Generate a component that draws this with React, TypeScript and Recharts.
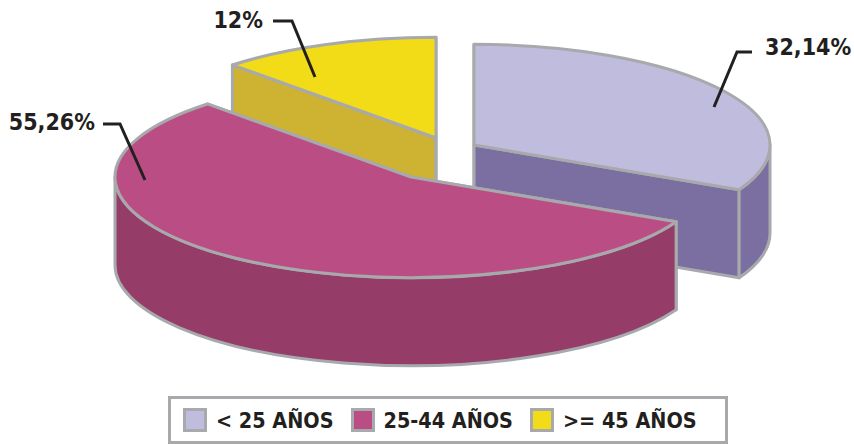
import { PieChart, Pie, Legend } from "recharts";

// Data
const CATEGORIES = ["< 25 AÑOS", "25-44 AÑOS", ">= 45 AÑOS"];
const VALUES = [32.14, 55.26, 12];

// Styles (one entry per category)
const TOP_COLORS = ["#C0BCDD", "#BA4E84", "#F2DB17"];
const WALL_COLORS = ["#7B6EA0", "#963C68", "#CDB331"];
const OFFSETS = [
  [34, -5],
  [-29, 27],
  [-4, -12],
];
const LEADERS = [
  { tip: [714, 107], knee: [737, 52], end: [752, 52], text: [765, 55], anchor: "start" },
  { tip: [145, 180], knee: [120, 124], end: [103, 124], text: [95, 130], anchor: "end" },
  { tip: [315, 77], knee: [292, 21], end: [273, 21], text: [263, 28], anchor: "end" },
];

const STROKE = "#A7A9AC";
const TEXT = "#231F20";
const FONT = "'DejaVu Sans Condensed', 'DejaVu Sans', sans-serif";
const Y_RATIO = 0.34;
const DEPTH = 88;

// Painted back to front, so the yellow slice goes first and the pie is rotated to suit
const DRAW_ORDER = [2, 0, 1];
const total = VALUES.reduce((s, v) => s + v, 0);
const START_ANGLE = 90 + (VALUES[2] / total) * 360;

const tableData = DRAW_ORDER.map((i) => ({
  name: CATEGORIES[i],
  value: VALUES[i],
  fill: TOP_COLORS[i],
  idx: i,
}));

const Slice3D = (props: any) => {
  const { cx, cy, outerRadius, startAngle, endAngle, payload } = props;
  const idx = payload.idx ?? props.idx;
  const [dx, dy] = OFFSETS[idx];
  const ox = cx + dx;
  const oy = cy + dy;
  const rx = outerRadius;
  const ry = outerRadius * Y_RATIO;
  const pt = (deg: number, drop = 0) => {
    const a = (deg * Math.PI) / 180;
    return `${ox + rx * Math.cos(a)} ${oy - ry * Math.sin(a) + drop}`;
  };
  const large = startAngle - endAngle > 180 ? 1 : 0;

  const top = `M${ox} ${oy} L${pt(startAngle)} A${rx} ${ry} 0 ${large} 1 ${pt(endAngle)} Z`;
  const face = (deg: number) =>
    `M${ox} ${oy} L${pt(deg)} L${pt(deg, DEPTH)} L${ox} ${oy + DEPTH} Z`;

  // Outer wall only shows on the front half of the ellipse
  const hi = Math.min(startAngle, 0);
  const lo = Math.max(endAngle, -180);
  const rim =
    hi > lo
      ? `M${pt(hi)} A${rx} ${ry} 0 0 1 ${pt(lo)} L${pt(lo, DEPTH)} A${rx} ${ry} 0 0 0 ${pt(hi, DEPTH)} Z`
      : null;

  const common = {
    stroke: STROKE,
    strokeWidth: 3,
    strokeLinejoin: "round" as const,
  };

  return (
    <g>
      <path d={face(startAngle)} fill={WALL_COLORS[idx]} {...common} />
      <path d={face(endAngle)} fill={WALL_COLORS[idx]} {...common} />
      {rim && <path d={rim} fill={WALL_COLORS[idx]} {...common} />}
      <path d={top} fill={TOP_COLORS[idx]} {...common} />
    </g>
  );
};

const renderLabel = (props: any) => {
  const idx = tableData[props.index].idx;
  const l = LEADERS[idx];
  return (
    <g>
      <polyline
        points={`${l.tip} ${l.knee} ${l.end}`}
        fill="none"
        stroke={TEXT}
        strokeWidth={3}
      />
      <text
        x={l.text[0]}
        y={l.text[1]}
        textAnchor={l.anchor as any}
        fontFamily={FONT}
        fontWeight={700}
        fontSize={23}
        fill={TEXT}
      >
        {String(VALUES[idx]).replace(".", ",")}%
      </text>
    </g>
  );
};

const LegendBox = (props: any) => {
  const items = [...(props.payload ?? [])].sort(
    (a: any, b: any) => CATEGORIES.indexOf(a.value) - CATEGORIES.indexOf(b.value),
  );
  return (
    <div
      style={{
        boxSizing: "border-box",
        width: 560,
        height: 48,
        border: `3px solid ${STROKE}`,
        display: "flex",
        alignItems: "center",
        paddingLeft: 12,
        fontFamily: FONT,
        fontWeight: 700,
        fontSize: 21.4,
        color: TEXT,
        background: "#fff",
      }}
    >
      {items.map((item: any) => (
        <span
          key={item.value}
          style={{ display: "flex", alignItems: "center", marginRight: 17, whiteSpace: "pre" }}
        >
          <span
            style={{
              boxSizing: "border-box",
              width: 24,
              height: 24,
              marginRight: 9,
              border: `3px solid ${STROKE}`,
              background: item.color,
            }}
          />
          {item.value}
        </span>
      ))}
    </div>
  );
};

export default function App() {
  return (
    <div style={{ position: "absolute", left: 0, top: 0 }}>
      <PieChart width={854} height={445} margin={{ top: 0, right: 0, bottom: 0, left: 0 }}>
        <Pie
          data={tableData}
          dataKey="value"
          nameKey="name"
          cx={440}
          cy={150}
          innerRadius={0}
          outerRadius={296}
          startAngle={START_ANGLE}
          endAngle={START_ANGLE - 360}
          shape={Slice3D}
          label={renderLabel}
          labelLine={false}
          isAnimationActive={false}
          legendType="rect"
        />
        <Legend
          content={<LegendBox />}
          wrapperStyle={{ position: "absolute", left: 168, top: 396, width: 560, bottom: "auto" }}
        />
      </PieChart>
    </div>
  );
}
